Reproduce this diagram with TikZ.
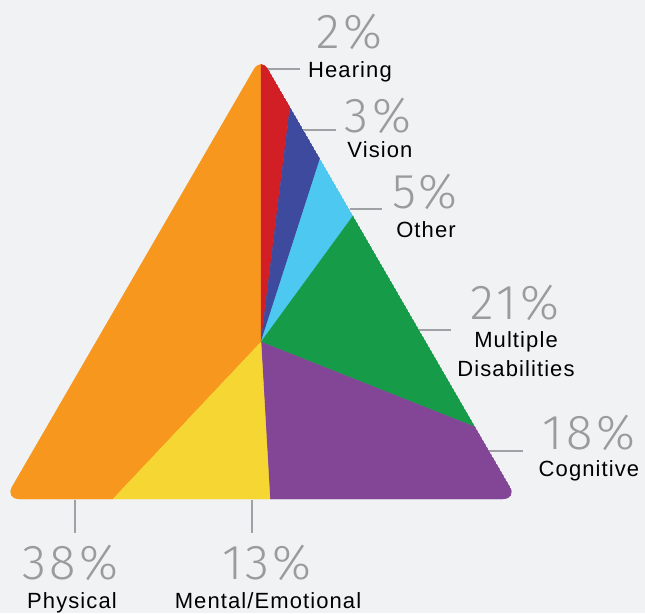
\documentclass[tikz,border=0pt]{standalone}
\usepackage{fontspec}
\setmainfont{Liberation Sans}
\newfontfamily\labelfont{Liberation Sans}[LetterSpace=5]
\newfontfamily\pctfont{Fira Sans Light}[LetterSpace=7]
\usepackage{tikz}
\usetikzlibrary{positioning,calc}
\usepackage{xcolor}
\definecolor{bggray}{RGB}{241,242,244}
\definecolor{pctgray}{RGB}{155,155,157}
\definecolor{linegray}{RGB}{160,161,164}
\definecolor{physorange}{RGB}{247,151,30}
\definecolor{hearred}{RGB}{210,31,38}
\definecolor{visblue}{RGB}{61,74,158}
\definecolor{othblue}{RGB}{77,200,240}
\definecolor{multgreen}{RGB}{22,155,72}
\definecolor{cogpurple}{RGB}{131,69,150}
\definecolor{mentyellow}{RGB}{245,214,50}

\tikzset{
    pct/.style={anchor=base,text=pctgray,inner sep=0pt,font=\pctfont\fontsize{49}{49}\selectfont},
    lbl/.style={anchor=base,text=black,inner sep=0pt,font=\labelfont\fontsize{22}{29}\selectfont,align=center},
    leader/.style={draw=linegray,line width=1.6pt},
    wedge/.style={fill=#1,draw=#1,line width=0.3pt}
}

\begin{document}
\begin{tikzpicture}[x=1pt,y=-1pt]
        % Background
        \fill[bggray] (0,0) rectangle (645,613);
        \useasboundingbox (0,0) rectangle (645,613);

        % Triangle corners and split points
        \coordinate (apex) at (261,57);
        \coordinate (bright) at (517,499);
        \coordinate (bleft) at (5,499);
        \coordinate (mid) at (261,342);
        \coordinate (p-hear) at (290,107);
        \coordinate (p-vis) at (320,159);
        \coordinate (p-oth) at (353,216);
        \coordinate (p-mult) at (475,427);
        \coordinate (p-cog) at (270,499);
        \coordinate (p-ment) at (113,499);

        % Wedges
        \begin{scope}
            \clip[rounded corners=14pt] (300,499) -- (bright) -- (apex) -- (bleft) -- cycle;
            \path[wedge=physorange] (mid) -- (p-ment) -- (bleft) -- (apex) -- cycle;
            \path[wedge=hearred] (mid) -- (apex) -- (p-hear) -- cycle;
            \path[wedge=visblue] (mid) -- (p-hear) -- (p-vis) -- cycle;
            \path[wedge=othblue] (mid) -- (p-vis) -- (p-oth) -- cycle;
            \path[wedge=multgreen] (mid) -- (p-oth) -- (p-mult) -- cycle;
            \path[wedge=cogpurple] (mid) -- (p-mult) -- (bright) -- (p-cog) -- cycle;
            \path[wedge=mentyellow] (mid) -- (p-cog) -- (p-ment) -- cycle;
        \end{scope}

        % Labels
        \node[pct] (hear-pct) at (349,48) {2\%};
        \node[lbl] (hear-lbl) at (350,77) {Hearing};
        \node[pct] (vis-pct) at (378,132) {3\%};
        \node[lbl] (vis-lbl) at (380,157) {Vision};
        \node[pct] (oth-pct) at (425,208) {5\%};
        \node[lbl] (oth-lbl) at (426,237) {Other};
        \node[pct] (mult-pct) at (515,319) {21\%};
        \node[lbl] (mult-lbl) at (516,376) {Multiple\\Disabilities};
        \node[pct] (cog-pct) at (589,449) {18\%};
        \node[lbl] (cog-lbl) at (589,476) {Cognitive};
        \node[pct] (phys-pct) at (70,579) {38\%};
        \node[lbl] (phys-lbl) at (72,608) {Physical};
        \node[pct] (ment-pct) at (267,579) {13\%};
        \node[lbl] (ment-lbl) at (268,608) {Mental/Emotional};

        % Leader lines
        \coordinate (hear-a) at (268,69);
        \coordinate (hear-b) at (300,69);
        \coordinate (vis-a) at (303,130);
        \coordinate (vis-b) at (336,130);
        \coordinate (oth-a) at (350,209);
        \coordinate (oth-b) at (382,209);
        \coordinate (mult-a) at (419,330);
        \coordinate (mult-b) at (451,330);
        \coordinate (cog-a) at (489,451);
        \coordinate (cog-b) at (523,451);
        \coordinate (phys-a) at (75,500);
        \coordinate (phys-b) at (75,533);
        \coordinate (ment-a) at (252,500);
        \coordinate (ment-b) at (252,533);
        \draw[leader] (hear-a) -- (hear-b);
        \draw[leader] (vis-a) -- (vis-b);
        \draw[leader] (oth-a) -- (oth-b);
        \draw[leader] (mult-a) -- (mult-b);
        \draw[leader] (cog-a) -- (cog-b);
        \draw[leader] (phys-a) -- (phys-b);
        \draw[leader] (ment-a) -- (ment-b);
    \end{tikzpicture}
\end{document}
